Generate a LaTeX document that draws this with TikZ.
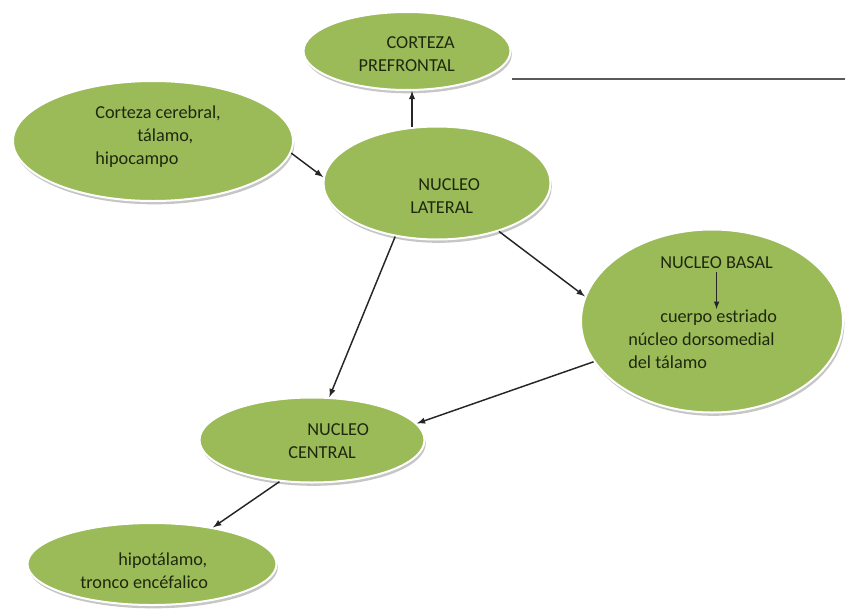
\documentclass[tikz,border=0pt]{standalone}
\usepackage{fontspec}
\setmainfont{Carlito}
\usetikzlibrary{shapes.geometric,shadows}
\definecolor{bubblegreen}{HTML}{9BBB59}
\definecolor{inkgreen}{RGB}{30,40,15}

\begin{document}
\begin{tikzpicture}[x=0.75pt, y=-0.75pt,
  bubble/.style 2 args={ellipse, fill=bubblegreen, draw=white, line width=1.5pt, inner sep=0pt,
    minimum width=#1*0.75pt, minimum height=#2*0.75pt,
    drop shadow={shadow xshift=1pt, shadow yshift=-2.5pt, opacity=0.45}},
  words/.style={font=\fontsize{13.7}{17.25}\selectfont, text=inkgreen, inner sep=0pt, align=left},
  link/.style={-latex, line width=1.1pt, black!85}]
\useasboundingbox (0,0) rectangle (845,614);

\node[bubble={207}{78}] (prefrontal) at (407,51) {};
\node[bubble={280}{120}] (cerebral) at (153,141) {};
\node[bubble={227}{113}] (lateral) at (437,183) {};
\node[bubble={262}{183}] (basal) at (712,321) {};
\node[bubble={225}{85}] (central) at (312,440) {};
\node[bubble={249}{82}] (hipot) at (152,564) {};

\node[words, anchor=base east, align=right] (prefrontaltxt) at (455,71) {CORTEZA\\PREFRONTAL};
\node[words, anchor=base west] (cerebraltxt) at (95,164) {Corteza cerebral,\\\hspace*{31.5pt}tálamo,\\hipocampo};
\node[words, anchor=base west] (lateraltxt) at (410,213) {\hspace*{6pt}NUCLEO\\LATERAL};
\node[words, anchor=base west] (basaltop) at (660,268) {NUCLEO BASAL};
\node[words, anchor=base west] (basaltxt) at (628,368) {\hspace*{24pt}cuerpo estriado\\núcleo dorsomedial\\del tálamo};
\node[words, anchor=base west] (centraltxt) at (288,458) {\hspace*{14.25pt}NUCLEO\\CENTRAL};
\node[words, anchor=base west] (hipottxt) at (80,588) {\hspace*{28.5pt}hipotálamo,\\tronco encéfalico};

\coordinate (edge) at (845,79);
\draw[line width=1.2pt, black!65] (edge -| prefrontal.east) -- (edge);

\draw[link] (lateral.114) -- (lateral.114 |- prefrontal.south);
\draw[link] (cerebral.-5) -- (lateral.177);
\draw[link] (lateral.232) -- (central.68);
\draw[link] (lateral.-38) -- (basal.169);
\draw[link] (basal.199) -- (central.9);
\draw[link] (central.232) -- (hipot.31);
\draw[link, line width=0.9pt, shorten <=3pt] (basaltop.south) -- (basaltop.south |- basaltxt.north);
\end{tikzpicture}
\end{document}
